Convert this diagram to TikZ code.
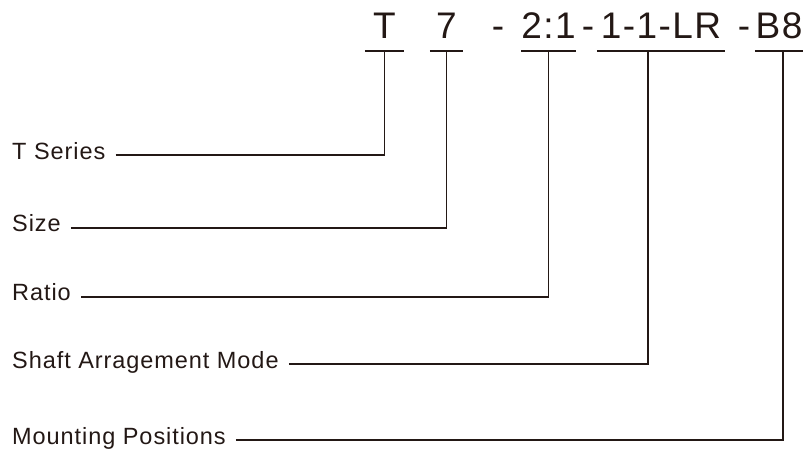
\documentclass[tikz,border=0pt]{standalone}
\usepackage{fontspec}
\setmainfont{Liberation Sans}[LetterSpace=4]
\usetikzlibrary{positioning,calc}
\definecolor{ink}{HTML}{231815}

\begin{document}
\begin{tikzpicture}[x=1pt,y=-1pt,
    code/.style={anchor=base,inner sep=0pt,text depth=12pt,text=ink,font=\fontsize{37}{40}\selectfont},
    sep/.style={anchor=base,inner sep=0pt,text=ink,font=\fontsize{37}{40}\selectfont},
    label/.style={anchor=base west,inner sep=0pt,text=ink,font=\fontsize{23.5}{26}\selectfont},
    lead/.style={draw=ink,line width=1.4pt}]
    \useasboundingbox (0,0) rectangle (807,454);

    % model code
    \node[code,minimum width=39pt] (cT) at (384.5,39) {T};
    \node[code,minimum width=33pt] (c7) at (446.5,39) {7};
    \node[sep] (d1) at (498,39) {-};
    \node[code,minimum width=45pt] (cRatio) at (548.5,39) {2:1};
    \node[sep] (d2) at (588,39) {-};
    \node[code,minimum width=128pt] (cShaft) at (661,39) {1-1-LR};
    \node[sep] (d3) at (744,39) {-};
    \node[code,minimum width=48pt] (cMount) at (779,39) {B8};

    % underlines
    \draw[lead] (cT.south west) -- (cT.south east);
    \draw[lead] (c7.south west) -- (c7.south east);
    \draw[lead] (cRatio.south west) -- (cRatio.south east);
    \draw[lead] (cShaft.south west) -- (cShaft.south east);
    \draw[lead] (cMount.south west) -- (cMount.south east);

    % descriptions
    \node[label] (lSeries) at (12,160) {T Series};
    \node[label] (lSize) at (12,232) {Size};
    \node[label] (lRatio) at (12,301) {Ratio};
    \node[label] (lShaft) at (12,369) {Shaft Arragement Mode};
    \node[label] (lMount) at (12,445) {Mounting Positions};

    % leaders
    \draw[lead] ([xshift=10pt,yshift=5pt]lSeries.base east) -| (cT.south);
    \draw[lead] ([xshift=10pt,yshift=4pt]lSize.base east) -| (c7.south);
    \draw[lead] ([xshift=10pt,yshift=4pt]lRatio.base east) -| (cRatio.south);
    \draw[lead] ([xshift=10pt,yshift=5pt]lShaft.base east) -| ([xshift=-13pt]cShaft.south);
    \draw[lead] ([xshift=10pt,yshift=5pt]lMount.base east) -| ([xshift=4pt]cMount.south);
\end{tikzpicture}
\end{document}
